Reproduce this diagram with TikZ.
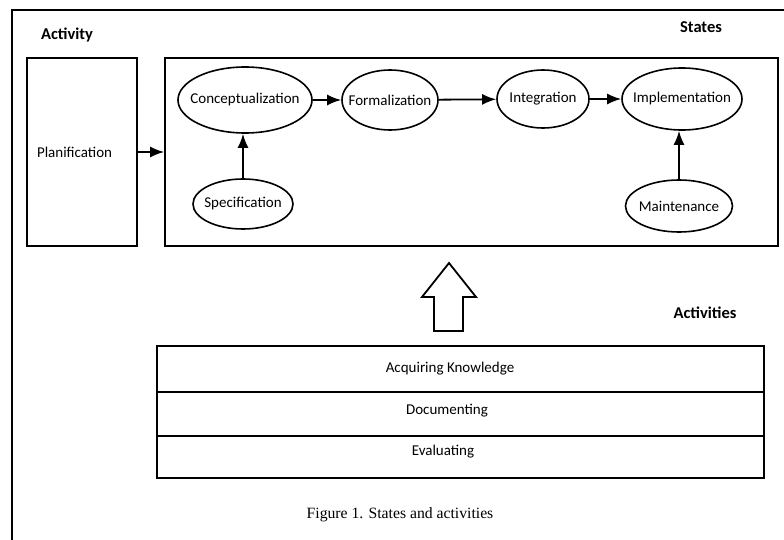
\documentclass[tikz,border=0pt]{standalone}
\usepackage{fontspec}
\setmainfont{Carlito}
\newfontfamily\captionfont{Liberation Serif}
\usetikzlibrary{shapes.geometric,arrows.meta}
\newcommand\ovaltext[1]{\makebox[0pt]{#1}}
\begin{document}
\begin{tikzpicture}[x=1pt,y=-1pt,
  frameline/.style={line width=2pt},
  box/.style={draw,line width=1.6pt,inner sep=0pt},
  statenode/.style={draw,ellipse,line width=1.6pt,inner sep=0pt,font=\fontsize{15}{17}\selectfont},
  flow/.style={line width=1.8pt,-{Latex[length=14pt,width=11pt]}},
  heading/.style={font=\bfseries\fontsize{16.5}{18}\selectfont},
  layer/.style={font=\fontsize{15}{17}\selectfont}]
\useasboundingbox (0,0) rectangle (784,540);
% page frame
\draw[frameline] (12,540) -- (12,10) -- (784,10);

% headings
\node[heading] (activity) at (67,35) {Activity};
\node[heading] (states) at (701,27) {States};
\node[heading] (activities) at (705,313) {Activities};

% planning activity and the state box
\node[box,minimum width=110pt,minimum height=188pt,text width=90pt,inner sep=10pt,align=left,
      font=\fontsize{15}{17}\selectfont] (plan) at (82,152) {Planification};
\node[box,minimum width=613pt,minimum height=188pt] (statebox) at (471.5,152) {};
\draw[flow] (plan.east) -- (statebox.west);

% states (fixed oval sizes, text centred inside)
\node[statenode,minimum width=134pt,minimum height=66pt] (concept) at (245,100) {\ovaltext{Conceptualization}};
\node[statenode,minimum width=96pt,minimum height=60pt] (formal) at (390,100) {\ovaltext{Formalization}};
\node[statenode,minimum width=92pt,minimum height=58pt] (integ) at (543,99) {\ovaltext{Integration}};
\node[statenode,minimum width=120pt,minimum height=62pt] (impl) at (682,99) {\ovaltext{Implementation}};
\node[statenode,minimum width=100pt,minimum height=50pt] (spec) at (243,204) {\ovaltext{Specification}};
\node[statenode,minimum width=107pt,minimum height=52pt] (maint) at (679,206) {\ovaltext{Maintenance}};

\draw[flow] (concept) -- (formal);
\draw[flow] (formal) -- (integ);
\draw[flow] (integ) -- (impl);
\draw[flow] (spec.north) -- (spec.north |- concept.south);
\draw[flow] (maint.north) -- (maint.north |- impl.south);

% activity layers
\node[box,minimum width=607pt,minimum height=46pt] (acq) at (460.5,369) {};
\node[box,minimum width=607pt,minimum height=44pt] (doc) at (460.5,414) {};
\node[box,minimum width=607pt,minimum height=42pt] (eval) at (460.5,457) {};
\node[layer] (acqtext) at (450,369) {Acquiring Knowledge};
\node[layer] (doctext) at (447,411) {Documenting};
\node[layer] (evaltext) at (443,452) {Evaluating};

% hollow arrow from the activities up to the states
\draw[line width=1.8pt,line join=miter]
  (449,263) -- (476,297) -- (463,297) -- (463,331) -- (434,331) -- (434,297) -- (422,297) -- cycle;

% caption
\node[font=\captionfont\fontsize{15.7}{18}\selectfont] (caption) at (400,515) {Figure 1. States and activities};
\end{tikzpicture}
\end{document}
